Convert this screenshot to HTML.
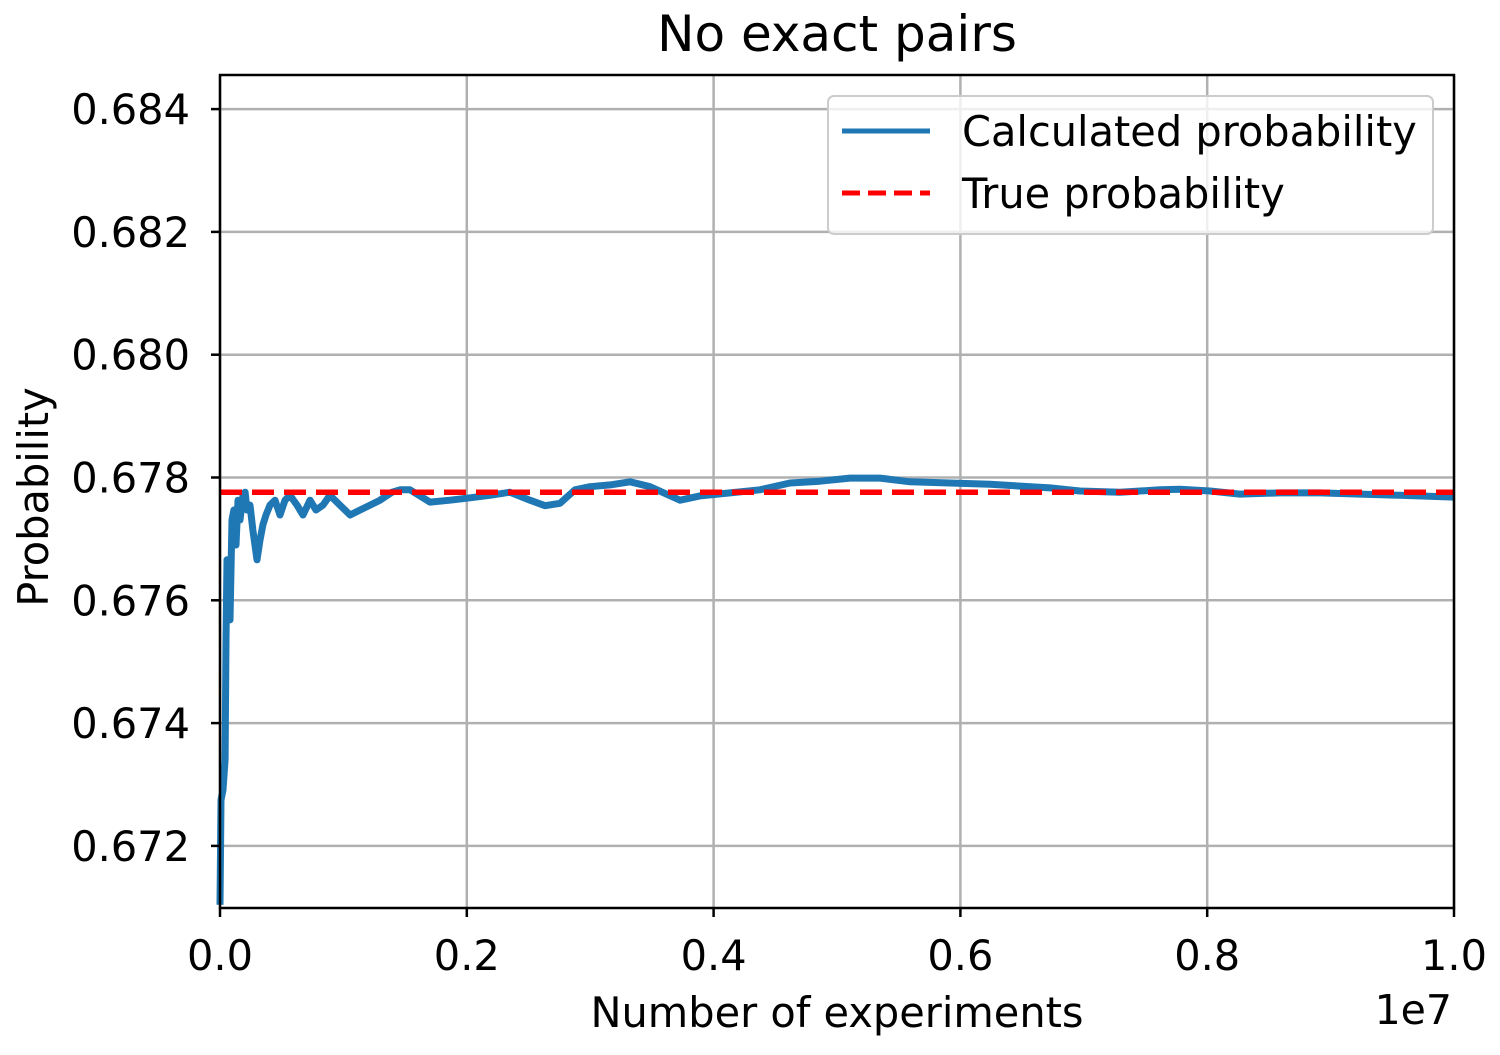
<!DOCTYPE html>
<html><head><meta charset="utf-8"><style>
body{margin:0;background:#fff}
text{font-family:"DejaVu Sans","Liberation Sans",sans-serif;fill:#000}
</style></head><body>
<svg id="chart" width="1500" height="1050" xmlns="http://www.w3.org/2000/svg">
<g id="grid"></g>
<g id="plot"></g>
<rect x="220" y="75" width="1234" height="833" fill="none" stroke="#000" stroke-width="2.5"/>
<g id="ticks"></g>
<text x="837" y="51" font-size="50" text-anchor="middle">No exact pairs</text>
<text x="837" y="1027" font-size="41.5" text-anchor="middle">Number of experiments</text>
<text x="1452" y="1024" font-size="41" text-anchor="end">1e7</text>
<text transform="translate(48,497) rotate(-90)" font-size="41.5" text-anchor="middle">Probability</text>
<g>
<rect x="828" y="96" width="605" height="138" rx="6" fill="#fff" fill-opacity="0.8" stroke="#ccc" stroke-width="2"/>
<line x1="842" y1="131" x2="930" y2="131" stroke="#1f77b4" stroke-width="5"/>
<text x="962" y="146" font-size="41.5">Calculated probability</text>
<line x1="842" y1="193" x2="930" y2="193" stroke="#ff0000" stroke-width="5" stroke-dasharray="18,8"/>
<text x="962" y="208" font-size="41.5">True probability</text>
</g>
</svg>
<script>
const experimentsM=[0,0.008,0.024,0.041,0.049,0.057,0.073,0.081,0.097,0.113,0.130,0.146,0.162,0.186,0.203,0.219,0.243,0.267,0.300,0.324,0.348,0.373,0.405,0.446,0.486,0.527,0.567,0.624,0.673,0.729,0.778,0.835,0.891,0.972,1.054,1.135,1.216,1.297,1.394,1.459,1.540,1.702,1.864,2.026,2.188,2.350,2.512,2.634,2.755,2.877,2.998,3.161,3.323,3.485,3.728,3.890,4.133,4.376,4.619,4.862,5.105,5.348,5.592,5.916,6.240,6.483,6.726,6.969,7.293,7.618,7.780,8.023,8.266,8.590,8.914,9.238,9.562,10];
const calculated=[0.67104,0.67275,0.67291,0.67340,0.67535,0.67666,0.67657,0.67568,0.67731,0.67747,0.67690,0.67763,0.67731,0.67771,0.67776,0.67747,0.67755,0.67714,0.67666,0.67698,0.67723,0.67739,0.67755,0.67763,0.67739,0.67763,0.67771,0.67755,0.67739,0.67763,0.67747,0.67755,0.67771,0.67755,0.67739,0.67747,0.67755,0.67763,0.67776,0.67780,0.67780,0.67760,0.67763,0.67767,0.67771,0.67776,0.67763,0.67754,0.67758,0.67780,0.67785,0.67788,0.67793,0.67785,0.67763,0.67770,0.67775,0.67780,0.67791,0.67794,0.67799,0.67799,0.67793,0.67791,0.67789,0.67786,0.67783,0.67778,0.67776,0.67780,0.67781,0.67778,0.67773,0.67775,0.67775,0.67773,0.67771,0.67768];
const trueProb=0.67776;
const xTicks=[0,0.2,0.4,0.6,0.8,1.0];
const xTickLabels=["0.0","0.2","0.4","0.6","0.8","1.0"];
const yTicks=[0.672,0.674,0.676,0.678,0.680,0.682,0.684];
const yTickLabels=["0.672","0.674","0.676","0.678","0.680","0.682","0.684"];
const NS="http://www.w3.org/2000/svg";
const X=v=>220+v*1234;
const Y=v=>477.5-(v-0.678)*61400;
function mk(tag,attrs,parent){const e=document.createElementNS(NS,tag);for(const k in attrs)e.setAttribute(k,attrs[k]);document.getElementById(parent).appendChild(e);return e;}
xTicks.forEach((t,i)=>{
  const g=mk('line',{x1:X(t),x2:X(t),y1:75,y2:908,stroke:'#b0b0b0','stroke-width':2.5},'grid');
  
  
  const tk=mk('line',{x1:X(t),x2:X(t),y1:908,y2:917,stroke:'#000','stroke-width':2.5},'ticks');
  
  
  const tx=mk('text',{x:X(t),y:970,'font-size':41.5,'text-anchor':'middle'},'ticks');
  tx.textContent=xTickLabels[i];
  
  
});
yTicks.forEach((t,i)=>{
  const g=mk('line',{x1:220,x2:1454,y1:Y(t),y2:Y(t),stroke:'#b0b0b0','stroke-width':2.5},'grid');
  
  
  const tk=mk('line',{x1:211,x2:220,y1:Y(t),y2:Y(t),stroke:'#000','stroke-width':2.5},'ticks');
  
  
  const tx=mk('text',{x:190,y:Y(t)+15,'font-size':41.5,'text-anchor':'end'},'ticks');
  tx.textContent=yTickLabels[i];
  
  
});
const d=experimentsM.map((x,i)=>(i?'L':'M')+X(x/10).toFixed(1)+','+Math.min(908,Y(calculated[i])).toFixed(1)).join('');
const p=mk('path',{d:d,fill:'none',stroke:'#1f77b4','stroke-width':7,'stroke-linejoin':'round'},'plot');


const tl=mk('line',{x1:220,x2:1454,y1:Y(trueProb),y2:Y(trueProb),stroke:'#ff0000','stroke-width':5.5,'stroke-dasharray':'22,10'},'plot');


</script>
</body></html>
